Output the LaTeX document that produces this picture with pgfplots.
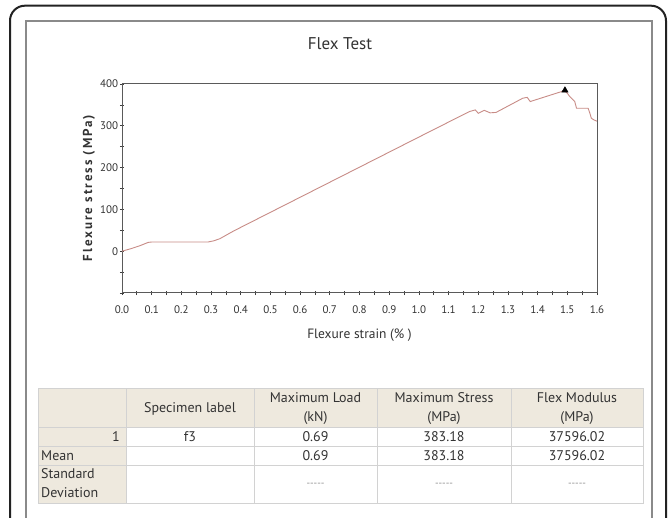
\documentclass[border=0pt]{standalone}
\usepackage{fontspec}
\setmainfont{PT Sans}
\usepackage{pgfplots}
\pgfplotsset{compat=1.18}
\definecolor{txt}{HTML}{333333}
\definecolor{framec}{HTML}{222222}
\definecolor{innerc}{HTML}{8A8A8A}
\definecolor{curvec}{RGB}{200,140,135}
\definecolor{beige}{RGB}{238,233,222}
\definecolor{gridc}{HTML}{D2D2D2}
\definecolor{axisc}{HTML}{5A5A5A}
\begin{document}
\begin{tikzpicture}[x=1pt,y=1pt]
\useasboundingbox (0,0) rectangle (669,518);
\fill[white] (0,0) rectangle (669,518);
\begin{scope}
\clip (0,0) rectangle (669,518);
\draw[line width=2pt, color=framec, rounded corners=15pt] (10,-40) rectangle (666,512.3);
\draw[line width=1.6pt, color=innerc] (25.7,-40) -- (25.7,496.7) -- (651.7,496.7) -- (651.7,-40);
\end{scope}
% title
\node[anchor=base, font=\fontsize{17}{20}\selectfont, text=txt] at (340,468) {Flex Test};
\begin{axis}[
  at={(122pt,225pt)}, anchor=south west,
  scale only axis, width=475pt, height=209pt,
  xmin=0, xmax=1.6, ymin=-100, ymax=400,
  xtick={0,0.1,0.2,0.3,0.4,0.5,0.6,0.7,0.8,0.9,1.0,1.1,1.2,1.3,1.4,1.5,1.6},
  minor xtick={0.05,0.15,0.25,0.35,0.45,0.55,0.65,0.75,0.85,0.95,1.05,1.15,1.25,1.35,1.45,1.55},
  ytick={0,100,200,300,400},
  minor ytick={-100,-50,50,150,250,350},
  /pgf/number format/assume math mode=true,
  tick label style={font=\fontsize{11}{13}\selectfont, text=txt},
  xticklabel style={/pgf/number format/fixed, /pgf/number format/fixed zerofill, /pgf/number format/precision=1, yshift=-7pt},
  yticklabel style={xshift=2pt},
  axis line style={draw=axisc, line width=1pt},
  tick style={draw=black!75, line width=0.7pt},
  major tick length=4.5pt, minor tick length=4.5pt,
  tick align=center, xtick pos=bottom, ytick pos=left,
  clip=false,
]
\addplot[color=curvec, line width=0.9pt] coordinates {
(0,0) (0.03,6) (0.06,13) (0.088,21) (0.1,22) (0.29,22) (0.31,25) (0.33,30)
(0.35,38) (0.37,46) (0.40,57) (0.6,129) (0.8,201) (1.0,273) (1.17,334)
(1.19,338) (1.20,330) (1.22,337) (1.24,331) (1.26,332) (1.35,366) (1.365,368)
(1.375,358) (1.49,384) (1.50,378) (1.508,370) (1.525,358) (1.531,342)
(1.57,342) (1.576,330) (1.581,318) (1.59,314) (1.6,311)
};
\addplot[only marks, mark=triangle*, mark size=3.6pt, color=black] coordinates {(1.492,385)};
\end{axis}
% axis labels
\node[anchor=base, font=\fontsize{13.5}{16}\selectfont, text=txt] at (359.5,179) {Flexure strain (\% )};
\node[rotate=90, anchor=base, font=\bfseries\fontsize{13}{15}\selectfont\addfontfeatures{LetterSpace=15}, text=txt] at (92,330) {Flexure stress (MPa)};
% table
\fill[beige] (38,91) rectangle (643,130);
\fill[beige] (38,15) rectangle (126,91);
\draw[gridc, line width=0.9pt] (38,15) rectangle (643,130);
\foreach \yy in {91,72,53} {\draw[gridc, line width=0.9pt] (38,\yy) -- (643,\yy);}
\foreach \xx in {126,254,377,511} {\draw[gridc, line width=0.9pt] (\xx,15) -- (\xx,130);}
\begin{scope}[every node/.style={font=\fontsize{14}{16}\selectfont, text=txt, inner sep=0pt}]
\node[anchor=base] at (190,105.5) {Specimen label};
\node[anchor=base] at (315.5,115) {Maximum Load};
\node[anchor=base] at (315.5,96) {(kN)};
\node[anchor=base] at (444,115) {Maximum Stress};
\node[anchor=base] at (444,96) {(MPa)};
\node[anchor=base] at (577,115) {Flex Modulus};
\node[anchor=base] at (577,96) {(MPa)};
\node[anchor=base east] at (120,76.5) {1};
\node[anchor=base] at (190,76.5) {f3};
\node[anchor=base] at (315.5,76.5) {0.69};
\node[anchor=base] at (444,76.5) {383.18};
\node[anchor=base] at (577,76.5) {37596.02};
\node[anchor=base west] at (41,57.5) {Mean};
\node[anchor=base] at (315.5,57.5) {0.69};
\node[anchor=base] at (444,57.5) {383.18};
\node[anchor=base] at (577,57.5) {37596.02};
\node[anchor=base west] at (41,39) {Standard};
\node[anchor=base west] at (41,20) {Deviation};
\node[text=black!45, font=\fontsize{10}{12}\selectfont] at (315.5,33) {{-}{-}{-}{-}{-}};
\node[text=black!45, font=\fontsize{10}{12}\selectfont] at (444,33) {{-}{-}{-}{-}{-}};
\node[text=black!45, font=\fontsize{10}{12}\selectfont] at (577,33) {{-}{-}{-}{-}{-}};
\end{scope}
\end{tikzpicture}
\end{document}
